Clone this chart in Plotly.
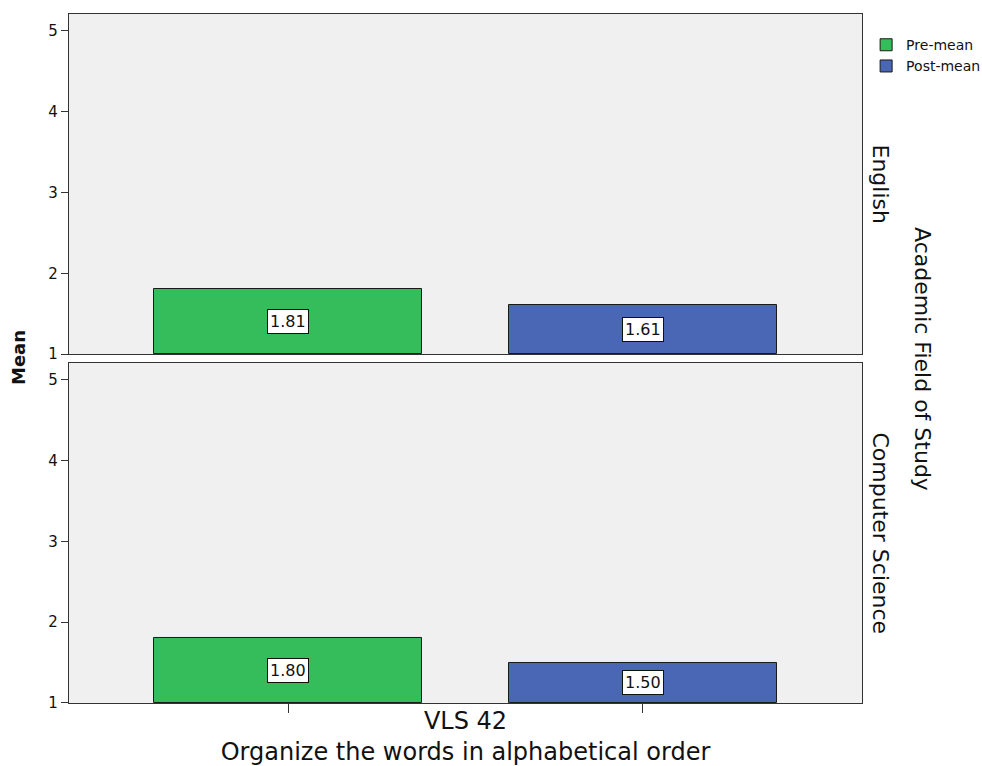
import plotly.graph_objects as go
from plotly.subplots import make_subplots

# Mean scores for item VLS 42, by academic field
fields = ["English", "Computer Science"]
series = ["Pre-mean", "Post-mean"]
pre_mean = [1.81, 1.80]
post_mean = [1.61, 1.50]
colors = {"Pre-mean": "#34bd5a", "Post-mean": "#4a67b5"}
y_ticks = [1, 2, 3, 4, 5]

FONT = "DejaVu Sans"
BASE = 1

fig = make_subplots(rows=2, cols=1, shared_xaxes=True, vertical_spacing=0.013)

values = {"Pre-mean": pre_mean, "Post-mean": post_mean}
for r, field in enumerate(fields, start=1):
    yref = "y" if r == 1 else "y2"
    xref = "x" if r == 1 else "x2"
    for s in series:
        v = values[s][r - 1]
        fig.add_trace(
            go.Bar(
                x=[s], y=[v - BASE], base=BASE, name=s,
                marker=dict(color=colors[s], line=dict(color="#1a1a1a", width=1)),
                width=0.755, showlegend=(r == 1), legendgroup=s,
                hoverinfo="skip",
            ),
            row=r, col=1,
        )
        fig.add_annotation(
            x=s, y=(BASE + v) / 2, xref=xref, yref=yref,
            text=f"{v:.2f}", showarrow=False,
            font=dict(family=FONT, size=16, color="#111"),
            bgcolor="white", bordercolor="#111", borderwidth=1, borderpad=2,
        )
    # facet row label
    fig.add_annotation(
        x=1.0, xref="paper", xanchor="left", xshift=4,
        y=0.5, yref=f"{yref} domain", yanchor="middle",
        text=field, textangle=90, showarrow=False,
        font=dict(family=FONT, size=22, color="#111"),
    )

fig.add_annotation(
    x=1.0, xref="paper", xanchor="left", xshift=46,
    y=0.5, yref="paper", yanchor="middle",
    text="Academic Field of Study", textangle=90, showarrow=False,
    font=dict(family=FONT, size=22, color="#111"),
)
fig.add_annotation(
    x=0, xref="paper", xanchor="right", xshift=-38,
    y=0.5, yref="paper", yanchor="middle", yshift=1,
    text="<b>Mean</b>", textangle=-90, showarrow=False,
    font=dict(family=FONT, size=18, color="#111"),
)

axis_common = dict(
    showline=True, linecolor="#333", linewidth=1.3, mirror=True,
    showgrid=False, zeroline=False,
)
for r in (1, 2):
    fig.update_yaxes(
        range=[1, 5.21], tickvals=y_ticks, ticks="outside", ticklen=7,
        tickcolor="#333", tickfont=dict(family=FONT, size=15, color="#111"),
        row=r, col=1, **axis_common,
    )
fig.update_xaxes(
    type="category", categoryorder="array", categoryarray=series,
    range=[-0.617, 1.617], showticklabels=False, **axis_common,
)
fig.update_xaxes(ticks="", row=1, col=1)
fig.update_xaxes(
    ticks="outside", ticklen=9, tickcolor="#333",
    title=dict(text="VLS 42<br>Organize the words in alphabetical order",
               font=dict(family=FONT, size=24, color="#111"), standoff=9),
    row=2, col=1,
)

fig.update_layout(
    width=982, height=766,
    margin=dict(l=69, r=120, t=14, b=63, autoexpand=False),
    paper_bgcolor="white", plot_bgcolor="#f0f0f0",
    barmode="overlay", bargap=0,
    legend=dict(
        x=0.882, xanchor="left", xref="container",
        y=0.978, yanchor="top",
        font=dict(family=FONT, size=14, color="#111"),
        itemwidth=30, tracegroupgap=0, bgcolor="rgba(0,0,0,0)",
    ),
    font=dict(family=FONT),
)

fig.write_html("out.html")
